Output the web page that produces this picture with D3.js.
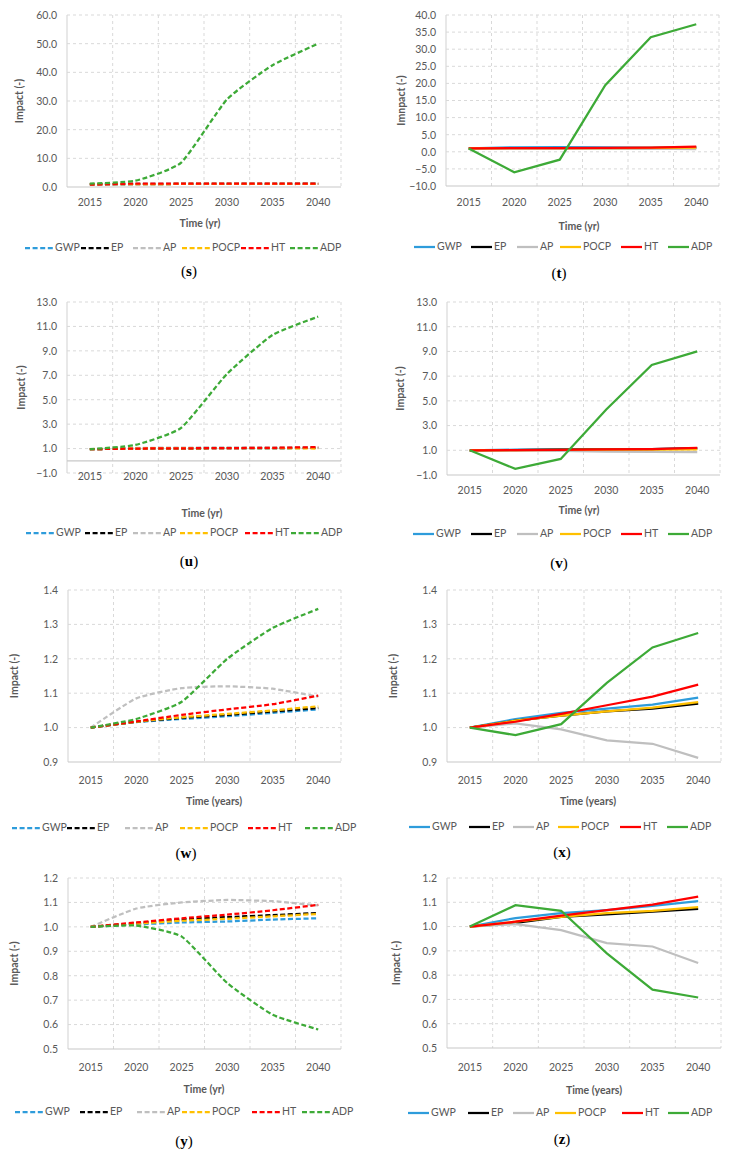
<!DOCTYPE html>
<html><head><meta charset="utf-8">
<script src="https://cdn.jsdelivr.net/npm/d3@7"></script>
<style>body{margin:0;background:#fff}svg{display:block}</style>
</head><body>
<script>
const years = ["2015","2020","2025","2030","2035","2040"];
const seriesNames = ["GWP","EP","AP","POCP","HT","ADP"];
const seriesColors = ["#2E9CDB","#000000","#BFBFBF","#FFC000","#FF0000","#3DAA37"];

// (s) dashed
const sGWP = [1.0,1.05,1.08,1.10,1.12,1.15];
const sEP  = [1.0,1.03,1.05,1.06,1.07,1.08];
const sAP  = [1.0,1.08,1.10,1.12,1.11,1.09];
const sPOCP= [1.0,1.03,1.05,1.06,1.06,1.07];
const sHT  = [0.8,1.2,1.2,1.2,1.2,1.2];
const sADP = [1.2,2.2,8.5,30.5,42.5,50.0];
// (t) solid
const tGWP = [1.0,1.3,1.35,1.3,1.25,1.3];
const tEP  = [1.0,1.05,1.1,1.1,1.1,1.2];
const tAP  = [1.0,1.0,0.95,0.9,0.9,0.8];
const tPOCP= [1.0,1.05,1.1,1.1,1.15,1.2];
const tHT  = [1.0,1.05,1.1,1.15,1.2,1.5];
const tADP = [1.0,-6.0,-2.3,19.5,33.5,37.3];
// (u) dashed
const uGWP = [0.95,1.0,1.02,1.03,1.04,1.05];
const uEP  = [0.95,1.0,1.02,1.03,1.04,1.06];
const uAP  = [0.95,1.05,1.08,1.1,1.1,1.08];
const uPOCP= [0.95,1.0,1.02,1.03,1.04,1.0];
const uHT  = [0.95,1.0,1.02,1.04,1.06,1.12];
const uADP = [0.95,1.3,2.7,7.1,10.3,11.8];
// (v) solid
const vGWP = [1.0,1.05,1.1,1.1,1.1,1.15];
const vEP  = [1.0,1.02,1.05,1.07,1.1,1.15];
const vAP  = [1.0,1.0,0.95,0.9,0.88,0.85];
const vPOCP= [1.0,1.02,1.04,1.05,1.06,1.08];
const vHT  = [1.0,1.02,1.04,1.07,1.1,1.2];
const vADP = [1.0,-0.5,0.3,4.3,7.9,9.0];
// (w) dashed
const wGWP = [1.0,1.016,1.025,1.033,1.043,1.053];
const wEP  = [1.0,1.017,1.028,1.037,1.047,1.057];
const wAP  = [1.0,1.085,1.115,1.12,1.113,1.09];
const wPOCP= [1.0,1.017,1.03,1.04,1.05,1.062];
const wHT  = [1.0,1.018,1.037,1.053,1.068,1.093];
const wADP = [1.0,1.025,1.075,1.20,1.29,1.345];
// (x) solid
const xGWP = [1.0,1.025,1.043,1.055,1.067,1.087];
const xEP  = [1.0,1.02,1.035,1.047,1.055,1.07];
const xAP  = [1.0,1.012,0.995,0.963,0.953,0.912];
const xPOCP= [1.0,1.02,1.035,1.047,1.058,1.074];
const xHT  = [1.0,1.017,1.04,1.065,1.09,1.125];
const xADP = [1.0,0.978,1.01,1.13,1.233,1.275];
// (y) dashed
const yGWP = [1.0,1.01,1.018,1.022,1.03,1.035];
const yEP  = [1.0,1.015,1.03,1.04,1.048,1.057];
const yAP  = [1.0,1.075,1.1,1.11,1.105,1.088];
const yPOCP= [1.0,1.013,1.025,1.033,1.043,1.053];
const yHT  = [1.0,1.018,1.035,1.05,1.068,1.09];
const yADP = [1.0,1.005,0.96,0.77,0.64,0.58];
// (z) solid
const zGWP = [1.0,1.035,1.055,1.068,1.085,1.105];
const zEP  = [1.0,1.015,1.04,1.05,1.062,1.073];
const zAP  = [1.0,1.01,0.985,0.932,0.918,0.85];
const zPOCP= [1.0,1.02,1.04,1.055,1.065,1.08];
const zHT  = [1.0,1.02,1.045,1.068,1.09,1.123];
const zADP = [1.0,1.088,1.065,0.89,0.74,0.708];

const panels = [
 {id:"s", data:[sGWP,sEP,sAP,sPOCP,sHT,sADP], domain:[0,60], step:10, axisAt:0, dashed:true,
  left:67,right:341,top:15,bottom:187, xLabelY:203, xTitle:"Time (yr)", xTitleX:200, xTitleY:224,
  yTitle:"Impact (-)", yTitleX:20, legendY:248, legendX:[25,81,133,182,241,290], capX:189, capY:273},
 {id:"t", data:[tGWP,tEP,tAP,tPOCP,tHT,tADP], domain:[-10,40], step:5, axisAt:-10, dashed:false,
  left:446,right:719,top:15,bottom:186, xLabelY:203, xTitle:"Time (yr)", xTitleX:579, xTitleY:227,
  yTitle:"Imnpact (-)", yTitleX:402, legendY:247, legendX:[414,471,517,560,621,668], capX:559, capY:275},
 {id:"u", data:[uGWP,uEP,uAP,uPOCP,uHT,uADP], domain:[-1,13], step:2, axisAt:0, dashed:true,
  left:67,right:341,top:302,bottom:473, xLabelY:477, xTitle:"Time (yr)", xTitleX:202, xTitleY:514,
  yTitle:"Impact (-)", yTitleX:22, legendY:533, legendX:[26,85,133,180,245,291], capX:189, capY:563},
 {id:"v", data:[vGWP,vEP,vAP,vPOCP,vHT,vADP], domain:[-1,13], step:2, axisAt:-1, dashed:false,
  left:447,right:720,top:302,bottom:475, xLabelY:491, xTitle:"Time (yr)", xTitleX:579, xTitleY:511,
  yTitle:"Impact (-)", yTitleX:401, legendY:534, legendX:[413,471,517,560,621,668], capX:559, capY:565},
 {id:"w", data:[wGWP,wEP,wAP,wPOCP,wHT,wADP], domain:[0.9,1.4], step:0.1, axisAt:0.9, dashed:true,
  left:68,right:341,top:590,bottom:762, xLabelY:781, xTitle:"Time (years)", xTitleX:214, xTitleY:802,
  yTitle:"Impact (-)", yTitleX:15, legendY:828, legendX:[12,67,125,180,248,305], capX:186, capY:855},
 {id:"x", data:[xGWP,xEP,xAP,xPOCP,xHT,xADP], domain:[0.9,1.4], step:0.1, axisAt:0.9, dashed:false,
  left:447,right:721,top:590,bottom:762, xLabelY:781, xTitle:"Time (years)", xTitleX:588, xTitleY:802,
  yTitle:"Impact (-)", yTitleX:394, legendY:827, legendX:[409,469,513,558,620,667], capX:562, capY:854},
 {id:"y", data:[yGWP,yEP,yAP,yPOCP,yHT,yADP], domain:[0.5,1.2], step:0.1, axisAt:0.5, dashed:true,
  left:68,right:341,top:878,bottom:1049, xLabelY:1068, xTitle:"Time (yr)", xTitleX:204, xTitleY:1090,
  yTitle:"Impact (-)", yTitleX:15, legendY:1112, legendX:[15,80,137,182,252,302], capX:184, capY:1143},
 {id:"z", data:[zGWP,zEP,zAP,zPOCP,zHT,zADP], domain:[0.5,1.2], step:0.1, axisAt:0.5, dashed:false,
  left:447,right:721,top:878,bottom:1048, xLabelY:1068, xTitle:"Time (years)", xTitleX:594, xTitleY:1091,
  yTitle:"Impact (-)", yTitleX:397, legendY:1113, legendX:[408,468,513,555,622,668], capX:562, capY:1141}
];

const FONT = "Lato, 'Open Sans', sans-serif";
const TXT = "#595959";
const GRID = "#D9D9D9";

const svg = d3.select("body").append("svg").attr("width",730).attr("height",1156);
svg.append("rect").attr("width",730).attr("height",1156).attr("fill","#fff");

panels.forEach(p => {
  const g = svg.append("g").attr("class","panel-"+p.id);
  const x = d3.scaleBand().domain(years).range([p.left,p.right]).padding(0);
  const y = d3.scaleLinear().domain(p.domain).range([p.bottom,p.top]);
  const ticks = d3.range(p.domain[0], p.domain[1] + p.step/2, p.step).map(v => +v.toFixed(4));
  const cx = d => x(d) + x.bandwidth()/2;

  // horizontal gridlines
  g.append("g").selectAll("line").data(ticks.filter(t => Math.abs(t - p.axisAt) > 1e-6)).join("line")
    .attr("x1",p.left).attr("x2",p.right)
    .attr("y1",d=>y(d)).attr("y2",d=>y(d))
    .attr("stroke",GRID).attr("stroke-width",1).attr("stroke-dasharray","3,3");
  // vertical gridlines (between categories) + right edge
  const vx = years.slice(1).map(d => x(d)).concat([p.right]);
  g.append("g").selectAll("line").data(vx).join("line")
    .attr("x1",d=>d).attr("x2",d=>d).attr("y1",p.top).attr("y2",p.bottom)
    .attr("stroke",GRID).attr("stroke-width",1).attr("stroke-dasharray","3,3");
  // left axis line
  g.append("line").attr("x1",p.left).attr("x2",p.left).attr("y1",p.top).attr("y2",p.bottom)
    .attr("stroke",GRID).attr("stroke-width",1.2);
  // horizontal axis line
  g.append("line").attr("x1",p.left).attr("x2",p.right).attr("y1",y(p.axisAt)).attr("y2",y(p.axisAt))
    .attr("stroke","#C8C8C8").attr("stroke-width",1.2);

  // y-axis tick labels
  const ya = g.append("g").attr("transform",`translate(${p.left},0)`)
    .call(d3.axisLeft(y).tickValues(ticks).tickFormat(d3.format(".1f")).tickSize(0).tickPadding(10));
  ya.select(".domain").remove();
  ya.selectAll("text").attr("fill",TXT).style("font-family",FONT).style("font-size","10.5px");

  // x-axis tick labels
  const xa = g.append("g").attr("transform",`translate(0,${p.xLabelY - 4})`)
    .call(d3.axisBottom(x).tickSize(0).tickPadding(0));
  xa.select(".domain").remove();
  xa.selectAll("text").attr("fill",TXT).style("font-family",FONT).style("font-size","10.5px");

  // axis titles
  g.append("text").attr("x",p.xTitleX).attr("y",p.xTitleY).attr("text-anchor","middle")
    .attr("dominant-baseline","middle").attr("fill",TXT).style("font-family",FONT)
    .style("font-size","10.5px").style("font-weight","bold").text(p.xTitle);
  const yMid = (p.top + p.bottom)/2;
  g.append("text").attr("transform",`translate(${p.yTitleX},${yMid}) rotate(-90)`)
    .attr("text-anchor","middle").attr("dominant-baseline","middle").attr("fill",TXT)
    .style("font-family",FONT).style("font-size","10.5px").style("font-weight","bold").text(p.yTitle);

  // series lines
  const line = d3.line().x((d,i)=>cx(years[i])).y(d=>y(d))
    .curve(p.dashed ? d3.curveCardinal.tension(0.5) : d3.curveLinear);
  p.data.forEach((vals,k) => {
    g.append("path").datum(vals).attr("d",line).attr("fill","none")
      .attr("stroke",seriesColors[k]).attr("stroke-width",2.25)
      .attr("stroke-dasharray", p.dashed ? "5,2.6" : null);
  });

  // legend
  const lineLen = p.dashed ? 28 : 21;
  seriesNames.forEach((name,k) => {
    const lx = p.legendX[k];
    g.append("line").attr("x1",lx).attr("x2",lx+lineLen).attr("y1",p.legendY).attr("y2",p.legendY)
      .attr("stroke",seriesColors[k]).attr("stroke-width",2.25)
      .attr("stroke-dasharray", p.dashed ? "5,2.6" : null);
    g.append("text").attr("x",lx+lineLen+2).attr("y",p.legendY).attr("dominant-baseline","middle")
      .attr("fill",TXT).style("font-family",FONT).style("font-size","10.5px").text(name);
  });

  // caption
  const cap = g.append("text").attr("x",p.capX).attr("y",p.capY).attr("text-anchor","middle")
    .attr("dominant-baseline","middle").attr("fill","#000")
    .style("font-family","'Liberation Serif','DejaVu Serif',serif").style("font-size","15px");
  cap.append("tspan").text("(");
  cap.append("tspan").style("font-weight","bold").text(p.id);
  cap.append("tspan").text(")");
});
</script>
</body></html>
